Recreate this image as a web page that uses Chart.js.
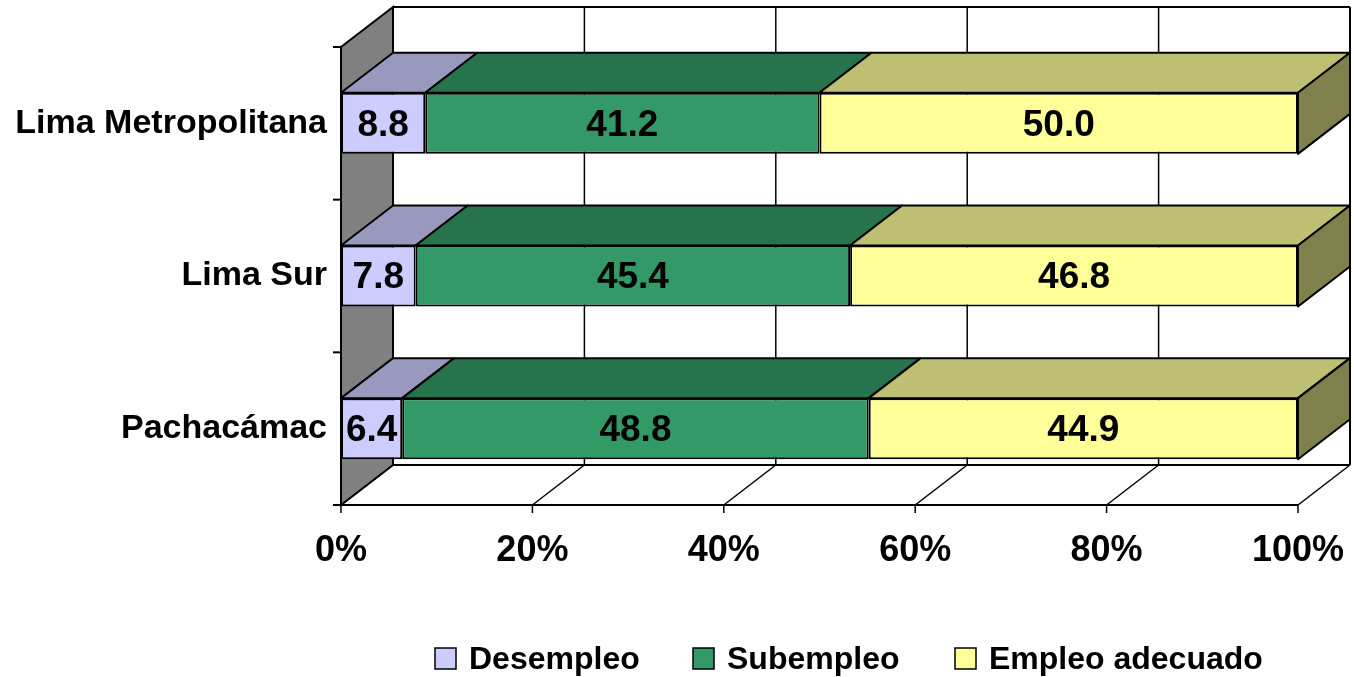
<!DOCTYPE html>
<html><head><meta charset="utf-8">
<script src="https://cdn.jsdelivr.net/npm/chart.js@4/dist/chart.umd.min.js"></script>
<style>html,body{margin:0;padding:0;background:#fff}#wrap{width:1354px;height:677px;position:relative}</style>
</head><body><div id="wrap"><canvas id="c"></canvas></div>
<script>
const categories = ['Lima Metropolitana', 'Lima Sur', 'Pachacámac'];
const seriesNames = ['Desempleo', 'Subempleo', 'Empleo adecuado'];
const desempleo = [8.8, 7.8, 6.4];
const subempleo = [41.2, 45.4, 48.8];
const empleoAdecuado = [50.0, 46.8, 44.9];
const tickValues = [0, 20, 40, 60, 80, 100];

const frontColors = ['#CCCCFF', '#339966', '#FFFF99'];
const topColors = ['#9999BF', '#26734C', '#BFBF73'];
const sideColors = ['#666680', '#1A4D33', '#80804C'];
const FONT = '"Liberation Sans", Arial, sans-serif';
const DX = 52, DY = 40;

const raw = [desempleo, subempleo, empleoAdecuado];
const totals = categories.map((_, j) => raw.reduce((s, arr) => s + arr[j], 0));
const pct = raw.map(arr => arr.map((v, j) => v / totals[j] * 100));

const wallsPlugin = {
  id: 'walls3d',
  beforeDatasetsDraw(chart) {
    const {ctx, chartArea: {left, right, top, bottom}, scales: {x, y}} = chart;
    ctx.save();
    ctx.strokeStyle = '#000';
    ctx.lineWidth = 2;
    ctx.fillStyle = '#fff';
    ctx.fillRect(left + DX, top - DY, right - left, bottom - top);
    ctx.lineWidth = 1.5;
    tickValues.forEach(v => {
      const px = x.getPixelForValue(v) + DX;
      ctx.beginPath(); ctx.moveTo(px, top - DY); ctx.lineTo(px, bottom - DY); ctx.stroke();
      ctx.beginPath(); ctx.moveTo(px - DX, bottom); ctx.lineTo(px, bottom - DY); ctx.stroke();
      ctx.beginPath(); ctx.moveTo(px - DX, bottom); ctx.lineTo(px - DX, bottom + 8); ctx.stroke();
    });
    ctx.lineWidth = 2;
    ctx.beginPath(); ctx.moveTo(left + DX, top - DY); ctx.lineTo(right + DX, top - DY); ctx.stroke();
    ctx.beginPath(); ctx.moveTo(left + DX, bottom - DY); ctx.lineTo(right + DX, bottom - DY); ctx.stroke();
    ctx.beginPath(); ctx.moveTo(right + DX, top - DY); ctx.lineTo(right + DX, bottom - DY); ctx.stroke();
    ctx.beginPath(); ctx.moveTo(left, bottom); ctx.lineTo(right, bottom); ctx.stroke();
    ctx.fillStyle = '#808080';
    ctx.beginPath();
    ctx.moveTo(left, top); ctx.lineTo(left + DX, top - DY);
    ctx.lineTo(left + DX, bottom - DY); ctx.lineTo(left, bottom); ctx.closePath();
    ctx.fill(); ctx.stroke();
    const n = categories.length;
    for (let i = 0; i <= n; i++) {
      const py = top + (bottom - top) * i / n;
      ctx.beginPath(); ctx.moveTo(left - 8, py); ctx.lineTo(left, py); ctx.stroke();
    }
    ctx.restore();
  },
  afterDatasetsDraw(chart) {
    const {ctx} = chart;
    ctx.save();
    ctx.strokeStyle = '#000';
    ctx.lineWidth = 2;
    ctx.lineJoin = 'round';
    const nds = chart.data.datasets.length;
    for (let d = 0; d < nds; d++) {
      const meta = chart.getDatasetMeta(d);
      meta.data.forEach((bar, j) => {
        const p = bar.getProps(['x', 'y', 'base', 'height'], true);
        const x0 = Math.min(p.x, p.base), x1 = Math.max(p.x, p.base);
        const t = p.y - p.height / 2, b = p.y + p.height / 2;
        ctx.fillStyle = topColors[d];
        ctx.beginPath();
        ctx.moveTo(x0, t); ctx.lineTo(x1, t); ctx.lineTo(x1 + DX, t - DY); ctx.lineTo(x0 + DX, t - DY); ctx.closePath();
        ctx.fill(); ctx.stroke();
        if (d === nds - 1) {
          ctx.fillStyle = sideColors[d];
          ctx.beginPath();
          ctx.moveTo(x1, t); ctx.lineTo(x1 + DX, t - DY); ctx.lineTo(x1 + DX, b - DY); ctx.lineTo(x1, b); ctx.closePath();
          ctx.fill(); ctx.stroke();
        }
      });
    }
    ctx.fillStyle = '#000';
    ctx.font = 'bold 37px ' + FONT;
    ctx.textAlign = 'center';
    ctx.textBaseline = 'middle';
    for (let d = 0; d < nds; d++) {
      const meta = chart.getDatasetMeta(d);
      meta.data.forEach((bar, j) => {
        const p = bar.getProps(['x', 'y', 'base'], true);
        ctx.fillText(raw[d][j].toFixed(1), (p.x + p.base) / 2, p.y + 2);
      });
    }
    ctx.restore();
  },
  afterDraw(chart) {
    const {ctx} = chart;
    ctx.save();
    const boxX = [435, 693, 955];
    const boxY = 648, box = 21;
    ctx.font = 'bold 32px ' + FONT;
    ctx.textBaseline = 'alphabetic';
    ctx.textAlign = 'left';
    seriesNames.forEach((name, i) => {
      ctx.fillStyle = frontColors[i];
      ctx.fillRect(boxX[i], boxY, box, box);
      ctx.strokeStyle = '#000'; ctx.lineWidth = 1.5;
      ctx.strokeRect(boxX[i], boxY, box, box);
      ctx.fillStyle = '#000';
      ctx.fillText(name, boxX[i] + 34, 669);
    });
    ctx.restore();
  }
};

new Chart(document.getElementById('c'), {
  type: 'bar',
  data: {
    labels: categories,
    datasets: seriesNames.map((name, i) => ({
      label: name,
      data: pct[i],
      backgroundColor: frontColors[i],
      borderColor: '#000',
      borderWidth: 2,
      borderSkipped: false,
      categoryPercentage: 1.0,
      barPercentage: 0.4
    }))
  },
  options: {
    indexAxis: 'y',
    responsive: true,
    maintainAspectRatio: false,
    animation: false,
    layout: {padding: {top: 47, right: 56, left: 0, bottom: 0}},
    plugins: {legend: {display: false}, tooltip: {enabled: false}},
    scales: {
      x: {
        stacked: true, min: 0, max: 100,
        afterBuildTicks(s) { s.ticks = tickValues.map(v => ({value: v})); },
        afterFit(s) { s.height = 172; s.paddingLeft = 0; s.paddingRight = 0; },
        grid: {display: false, drawTicks: false},
        border: {display: false},
        ticks: {
          callback: v => v + '%',
          color: '#000', padding: 24,
          font: {family: FONT, size: 36, weight: 'bold'},
          maxRotation: 0, autoSkip: false
        }
      },
      y: {
        stacked: true,
        afterFit(s) { s.width = 341; s.paddingTop = 0; s.paddingBottom = 0; },
        grid: {display: false, drawTicks: false},
        border: {display: false},
        ticks: {
          color: '#000', padding: 14,
          font: {family: FONT, size: 34, weight: 'bold'}
        }
      }
    }
  },
  plugins: [wallsPlugin]
});
</script>
</body></html>
